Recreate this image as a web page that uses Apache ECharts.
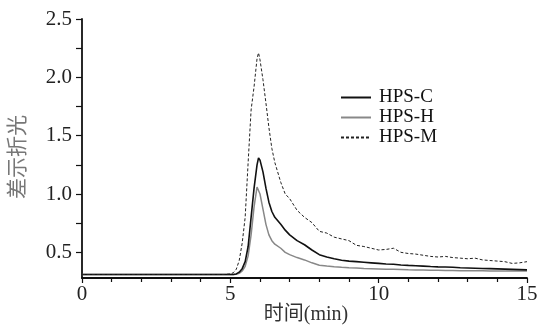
<!DOCTYPE html>
<html>
<head>
<meta charset="utf-8">
<script src="https://cdn.jsdelivr.net/npm/echarts@6/dist/echarts.min.js"></script>
<style>
  html, body { margin: 0; padding: 0; background: #fff; }
  #chart { width: 539px; height: 326px; }
</style>
</head>
<body>
<div id="chart"></div>
<script>
// retention time (min)
const times = [0, 1, 2, 3, 4, 4.8, 5.0, 5.1, 5.2, 5.3, 5.4, 5.5, 5.6, 5.7, 5.8, 5.9, 5.95, 6.0,
  6.1, 6.2, 6.3, 6.4, 6.5, 6.7, 6.85,
  7.0, 7.25, 7.5, 7.75, 8.0, 8.25, 8.5, 8.75, 9.0, 9.25, 9.5, 9.75, 10, 10.25, 10.5, 10.75,
  11, 11.25, 11.5, 11.75, 12, 12.25, 12.5, 12.75, 13, 13.25, 13.5, 13.75, 14, 14.25, 14.5, 14.75, 15];

const hpsC = [0.31, 0.31, 0.31, 0.31, 0.31, 0.31, 0.31, 0.31, 0.315, 0.33, 0.36, 0.42, 0.55, 0.80, 1.05, 1.25, 1.31, 1.29,
  1.19, 1.05, 0.93, 0.85, 0.80, 0.74, 0.69,
  0.65, 0.60, 0.565, 0.52, 0.48, 0.46, 0.445, 0.432, 0.425, 0.42, 0.415, 0.41, 0.405, 0.40, 0.398, 0.392,
  0.388, 0.385, 0.382, 0.378, 0.375, 0.374, 0.372, 0.368, 0.366, 0.364, 0.362, 0.36, 0.358, 0.356, 0.354, 0.352, 0.35];

const hpsH = [0.31, 0.31, 0.31, 0.31, 0.31, 0.31, 0.31, 0.31, 0.312, 0.32, 0.34, 0.38, 0.47, 0.65, 0.89, 1.06, 1.07, 1.00,
  0.87, 0.74, 0.65, 0.60, 0.57, 0.535, 0.50,
  0.48, 0.455, 0.435, 0.41, 0.39, 0.383, 0.377, 0.372, 0.368, 0.365, 0.362, 0.36, 0.358, 0.356, 0.354, 0.352,
  0.35, 0.349, 0.348, 0.347, 0.346, 0.345, 0.344, 0.343, 0.343, 0.342, 0.342, 0.341, 0.341, 0.34, 0.34, 0.34, 0.34];

const hpsM = [0.31, 0.31, 0.31, 0.31, 0.31, 0.31, 0.315, 0.325, 0.355, 0.43, 0.58, 0.80, 1.27, 1.72, 1.92, 2.16, 2.21, 2.15,
  1.98, 1.78, 1.57, 1.39, 1.27, 1.10, 1.00,
  0.96, 0.86, 0.80, 0.755, 0.68, 0.665, 0.63, 0.615, 0.60, 0.56, 0.55, 0.535, 0.52, 0.525, 0.535, 0.50,
  0.49, 0.485, 0.475, 0.465, 0.46, 0.465, 0.455, 0.45, 0.445, 0.45, 0.435, 0.43, 0.425, 0.42, 0.405, 0.41, 0.42];

const yLabels = [0.5, 1.0, 1.5, 2.0, 2.5];
const yTicks = [0.5, 0.75, 1.0, 1.25, 1.5, 1.75, 2.0, 2.25, 2.5];

const serif = "'Times New Roman', 'Liberation Serif', 'Noto Sans CJK SC', serif";

const pair = (ys) => times.map((t, i) => [t, ys[i]]);

const chart = echarts.init(document.getElementById('chart'));

chart.setOption({
  animation: false,
  backgroundColor: '#fff',
  textStyle: { fontFamily: serif },
  grid: { left: 82, right: 12, top: 19, bottom: 48, outerBoundsMode: 'none', containLabel: false },
  legend: {
    orient: 'vertical',
    left: 335,
    top: 83,
    itemWidth: 30,
    itemHeight: 12,
    itemGap: 1,
    itemStyle: { opacity: 0 },
    textStyle: { fontFamily: serif, fontSize: 19, color: '#111', padding: [0, 0, 0, 3] },
    data: ['HPS-C', 'HPS-H', 'HPS-M'],
  },
  xAxis: {
    type: 'value',
    min: 0,
    max: 15,
    interval: 5,
    axisLine: { lineStyle: { color: '#111', width: 1.8 } },
    axisTick: { length: 5, lineStyle: { color: '#111', width: 1.2 } },
    minorTick: { show: true, splitNumber: 5, length: 4, lineStyle: { color: '#111', width: 1.2 } },
    splitLine: { show: false },
    axisLabel: { fontFamily: serif, fontSize: 21, color: '#222', margin: 6 },
  },
  yAxis: {
    type: 'value',
    min: 0.28,
    max: 2.5,
    axisLine: { show: true, lineStyle: { color: '#111', width: 1.8 } },
    axisTick: { show: true, length: 6, customValues: yTicks, lineStyle: { color: '#111', width: 1.2 } },
    splitLine: { show: false },
    axisLabel: {
      fontFamily: serif,
      fontSize: 21,
      color: '#222',
      margin: 10,
      customValues: yLabels,
      formatter: (v) => v.toFixed(1),
    },
  },
  graphic: [
    {
      type: 'text',
      x: 18,
      y: 157,
      rotation: Math.PI / 2,
      style: {
        text: '差示折光',
        fontFamily: serif,
        fontSize: 21,
        fill: '#777',
        align: 'center',
        verticalAlign: 'middle',
      },
    },
    {
      type: 'text',
      x: 306,
      y: 315,
      style: {
        text: '时间(min)',
        fontFamily: serif,
        fontSize: 20,
        fill: '#333',
        align: 'center',
        verticalAlign: 'middle',
      },
    },
  ],
  series: [
    {
      name: 'HPS-C',
      type: 'line',
      data: pair(hpsC),
      symbol: 'none',
      lineStyle: { color: '#111', width: 1.6 },
      itemStyle: { color: '#111' },
      z: 3,
    },
    {
      name: 'HPS-H',
      type: 'line',
      data: pair(hpsH),
      symbol: 'none',
      lineStyle: { color: '#888', width: 1.5 },
      itemStyle: { color: '#888' },
      z: 2,
    },
    {
      name: 'HPS-M',
      type: 'line',
      data: pair(hpsM),
      symbol: 'none',
      lineStyle: { color: '#222', width: 1, type: [3, 2] },
      itemStyle: { color: '#222' },
      z: 4,
    },
  ],
});
</script>
</body>
</html>
